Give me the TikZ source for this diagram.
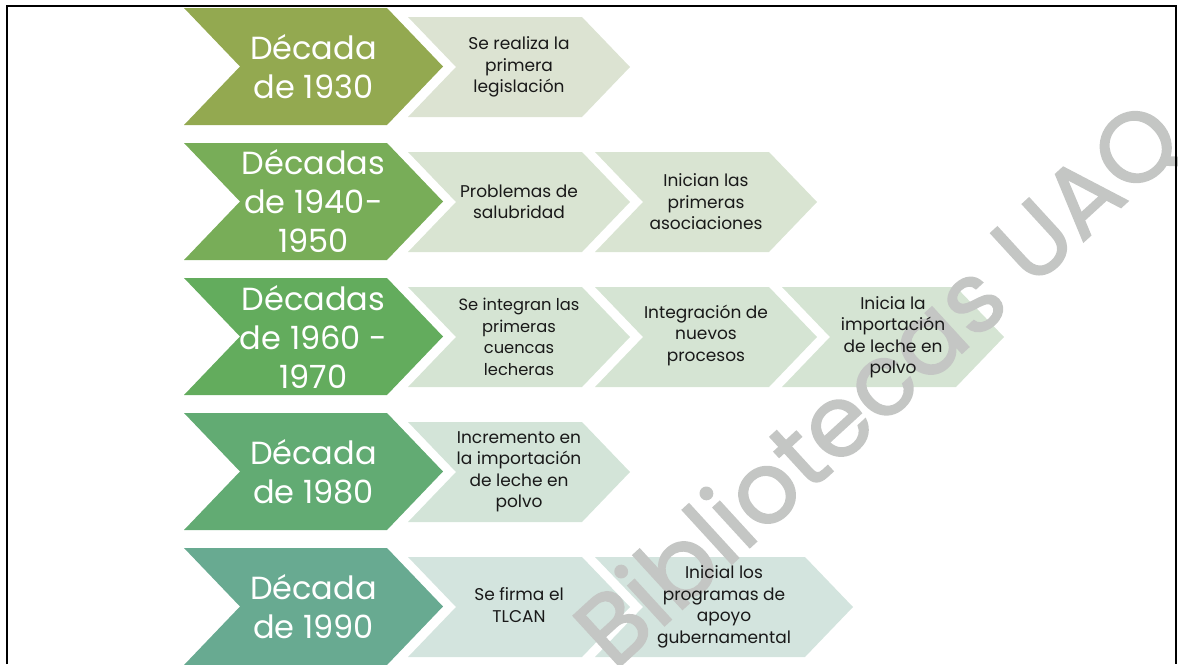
\documentclass[tikz,border=0pt]{standalone}
\usepackage{fontspec}
\setmainfont{Poppins}
\newfontfamily\wmfont{Poppins}[FakeBold=1.6]
\definecolor{bA}{RGB}{147,169,80}
\definecolor{bB}{RGB}{120,173,88}
\definecolor{bC}{RGB}{99,172,93}
\definecolor{bD}{RGB}{98,171,115}
\definecolor{bE}{RGB}{104,170,145}
\definecolor{lA}{RGB}{220,227,210}
\definecolor{lB}{RGB}{217,228,210}
\definecolor{lC}{RGB}{213,228,211}
\definecolor{lD}{RGB}{211,228,216}
\definecolor{lE}{RGB}{211,228,222}
\definecolor{wmgray}{RGB}{196,198,196}
% chevron outline: x, y(top), width, height, depth
\newcommand\chevpath[5]{(#1,#2) -- ++({#3-#5},0) -- ++(#5,{#4/2}) -- ++(-#5,{#4/2}) -- ++({-#3+#5},0) -- ++(#5,{-#4/2}) -- cycle}
\tikzset{
  bigtxt/.style={text=white, align=center, inner sep=0pt, font=\fontsize{32}{39}\selectfont},
  lighttxt/.style={text=black!90, align=center, inner sep=0pt, font=\fontsize{17}{21.5}\selectfont},
  smalltxt/.style={lighttxt, font=\fontsize{16.3}{21.5}\selectfont},
  wmark/.style={text=wmgray, inner sep=0pt, font=\wmfont\fontsize{99}{99}\selectfont},
  frame/.style={line width=2pt, black}
}
\begin{document}
\begin{tikzpicture}[x=1pt,y=-1pt]
\useasboundingbox (0,0) rectangle (1178,664);
% chevron shapes
\fill[bA] \chevpath{184}{8}{259}{117}{56};
\fill[lA] \chevpath{408}{17}{222}{100}{48};
\fill[bB] \chevpath{184}{143}{259}{117}{56};
\fill[lB] \chevpath{408}{152}{222}{100}{48};
\fill[lB] \chevpath{595}{152}{222}{100}{48};
\fill[bC] \chevpath{184}{278}{259}{117}{56};
\fill[lC] \chevpath{408}{287}{222}{100}{48};
\fill[lC] \chevpath{595}{287}{222}{100}{48};
\fill[lC] \chevpath{782}{287}{222}{100}{48};
\fill[bD] \chevpath{184}{413}{259}{117}{56};
\fill[lD] \chevpath{408}{422}{222}{100}{48};
\fill[bE] \chevpath{184}{548}{259}{117}{56};
\fill[lE] \chevpath{408}{557}{222}{100}{48};
\fill[lE] \chevpath{595}{557}{258}{100}{48};
% watermark
\node[wmark, rotate=42.5] (wm) at (880,386) {Bibliotecas UAQ};
% row 1
\node[bigtxt] (d1) at (313.5,66.5) {Década\\de 1930};
\node[lighttxt] (t11) at (519,67) {Se realiza la\\primera\\legislación};
% row 2
\node[bigtxt] (d2) at (313.5,201.5) {Décadas\\de 1940-\\1950};
\node[lighttxt] (t21) at (519,202) {Problemas de\\salubridad};
\node[lighttxt] (t22) at (706,202) {Inician las\\primeras\\asociaciones};
% row 3
\node[bigtxt] (d3) at (313.5,336.5) {Décadas\\de 1960 -\\1970};
\node[smalltxt] (t31) at (519,337) {Se integran las\\primeras\\cuencas\\lecheras};
\node[lighttxt] (t32) at (706,335) {Integración de\\nuevos\\procesos};
\node[lighttxt] (t33) at (893,337) {Inicia la\\importación\\de leche en\\polvo};
% row 4
\node[bigtxt] (d4) at (313.5,471.5) {Década\\de 1980};
\node[lighttxt] (t41) at (519,472) {Incremento en\\la importación\\de leche en\\polvo};
% row 5
\node[bigtxt] (d5) at (313.5,606.5) {Década\\de 1990};
\node[lighttxt] (t51) at (519,605) {Se firma el\\TLCAN};
\node[lighttxt] (t52) at (724,607) {Inicial los\\programas de\\apoyo\\gubernamental};
% frame
\draw[frame] (7,664) -- (7,6) -- (1176,6) -- (1176,664);
\end{tikzpicture}
\end{document}
